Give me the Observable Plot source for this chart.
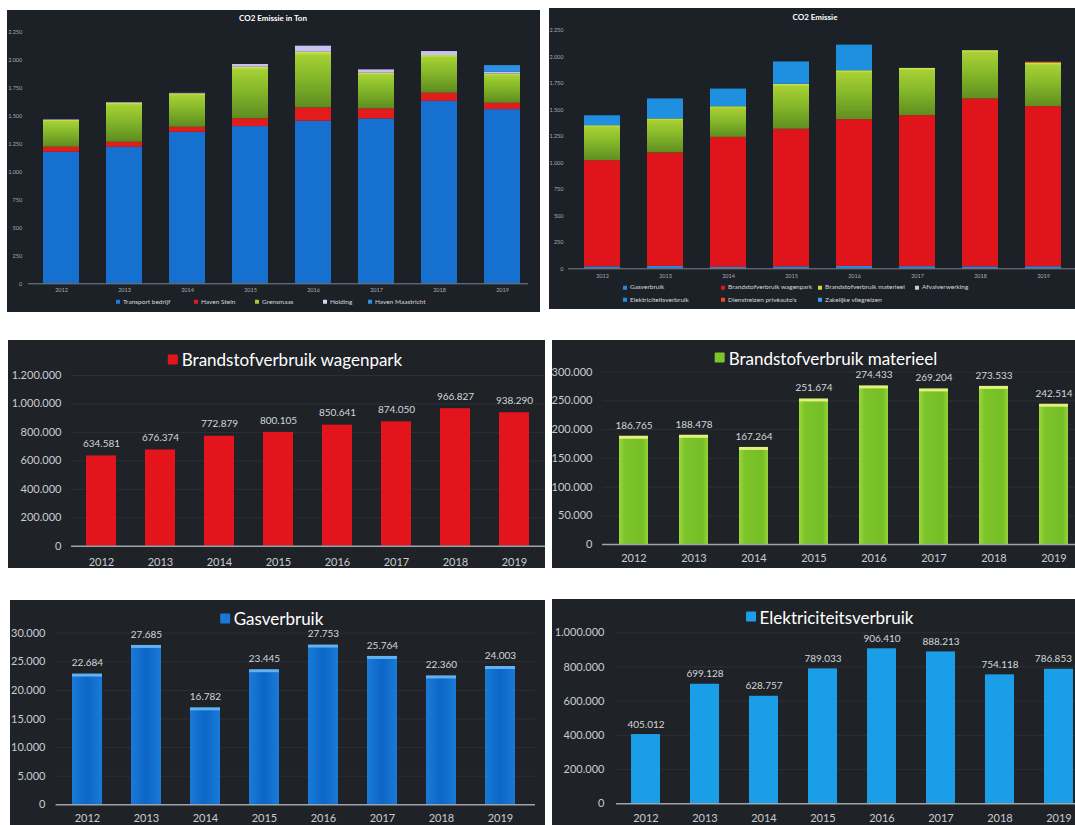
<!DOCTYPE html>
<html>
<head>
<meta charset="utf-8">
<script src="https://cdn.jsdelivr.net/npm/d3@7"></script>
<script src="https://cdn.jsdelivr.net/npm/@observablehq/plot@0.6"></script>
<style>
  html, body { margin: 0; padding: 0; background: #ffffff; }
  body { width: 1075px; height: 825px; position: relative; overflow: hidden; font-family: Lato, "Open Sans", sans-serif; }
  .panel { position: absolute; background: #1f2328; overflow: hidden; }
  .panel.top { background: #1c2027; }
  .title { position: absolute; transform: translate(-50%, -50%); color: #ffffff; white-space: nowrap; line-height: 1; display: flex; align-items: center; }
  .mk { display: inline-block; margin-right: 4px; border-radius: 1px; }
  .svgwrap { position: absolute; left: 0; }
  .leg { position: absolute; color: #d6d8dc; white-space: nowrap; line-height: 1; display: flex; align-items: center; transform: translateY(-50%); }
  .leg i { display: inline-block; width: 4px; height: 4px; margin-right: 3px; }
</style>
</head>
<body>
<script>
// ---------- DATA ----------
const years = ["2012", "2013", "2014", "2015", "2016", "2017", "2018", "2019"];

// CO2 Emissie in Ton (per onderdeel)
const tlSeries = ["Transport bedrijf", "Haven Stein", "Grensmaas", "Holding", "Haven Maastricht"];
const tlTransport       = [1176, 1221, 1355, 1406, 1454, 1475, 1632, 1558];
const tlHavenStein      = [45, 45, 45, 69, 119, 89, 72, 56];
const tlGrensmaas       = [239, 349, 298, 462, 498, 319, 337, 262];
const tlHolding         = [5, 5, 5, 24, 54, 30, 36, 15];
const tlHavenMaastricht = [0, 0, 0, 0, 0, 0, 0, 60];
const tlTicks = [0, 250, 500, 750, 1000, 1250, 1500, 1750, 2000, 2250];

// CO2 Emissie (per bron)
const trStackOrder = ["Gasverbruik", "Brandstofverbruik wagenpark", "Brandstofverbruik materieel", "Afvalverwerking", "Dienstreizen privéauto's", "Elektriciteitsverbruik", "Zakelijke vliegreizen"];
const trGas          = [18, 22, 13, 18, 22, 20, 18, 19];
const trWagenpark    = [1003, 1072, 1228, 1300, 1386, 1426, 1585, 1512];
const trMaterieel    = [330, 321, 289, 424, 462, 446, 456, 409];
const trAfval        = [0, 0, 0, 0, 0, 0, 0, 0];
const trDienstreizen = [0, 0, 0, 0, 0, 0, 0, 10];
const trElektriciteit = [94, 189, 167, 211, 242, 0, 0, 0];
const trVliegreizen  = [0, 0, 0, 0, 0, 0, 0, 0];
const trTicks = [0, 250, 500, 750, 1000, 1250, 1500, 1750, 2000, 2250];

// Brandstofverbruik wagenpark
const wagenpark = [634581, 676374, 772879, 800105, 850641, 874050, 966827, 938290];
const wagenparkTicks = [0, 200000, 400000, 600000, 800000, 1000000, 1200000];
// Brandstofverbruik materieel
const materieel = [186765, 188478, 167264, 251674, 274433, 269204, 273533, 242514];
const materieelTicks = [0, 50000, 100000, 150000, 200000, 250000, 300000];
// Gasverbruik
const gas = [22684, 27685, 16782, 23445, 27753, 25764, 22360, 24003];
const gasTicks = [0, 5000, 10000, 15000, 20000, 25000, 30000];
// Elektriciteitsverbruik
const elektriciteit = [405012, 699128, 628757, 789033, 906410, 888213, 754118, 786853];
const elektriciteitTicks = [0, 200000, 400000, 600000, 800000, 1000000];

// ---------- HELPERS ----------
const nl = d3.formatLocale({decimal: ",", thousands: ".", grouping: [3], currency: ["€", ""]});
const fmt = nl.format(",d");

function bandX(c0, c1, bw, off) {
  const n = years.length;
  const step = (c1 - c0) / (n - 1);
  const p = 1 - bw / step;
  const po = 0.25;
  return {type: "band", domain: years, range: [c0 - bw / 2 - po * step - off, c1 + bw / 2 + po * step - off], paddingInner: p, paddingOuter: po, align: 0.5};
}

function makePanel(p, cls) {
  const d = document.createElement("div");
  d.className = "panel" + (cls ? " " + cls : "");
  Object.assign(d.style, {left: p.left + "px", top: p.top + "px", width: p.width + "px", height: p.height + "px"});
  document.body.appendChild(d);
  return d;
}

function addTitle(div, p, text, cx, cy, size, weight, marker, mkSize) {
  const t = document.createElement("div");
  t.className = "title";
  t.style.left = (cx - p.left) + "px";
  t.style.top = (cy - p.top) + "px";
  t.style.fontSize = size + "px";
  t.style.fontWeight = weight;
  if (marker) {
    const m = document.createElement("span");
    m.className = "mk";
    Object.assign(m.style, {background: marker, width: mkSize + "px", height: mkSize + "px"});
    t.appendChild(m);
  }
  t.appendChild(document.createTextNode(text));
  div.appendChild(t);
}

function addGradients(svg, grads) {
  const ns = "http://www.w3.org/2000/svg";
  const defs = document.createElementNS(ns, "defs");
  for (const g of grads) {
    const lg = document.createElementNS(ns, "linearGradient");
    lg.setAttribute("id", g.id);
    lg.setAttribute("x1", g.x1 ?? 0); lg.setAttribute("y1", g.y1 ?? 0);
    lg.setAttribute("x2", g.x2 ?? 0); lg.setAttribute("y2", g.y2 ?? 1);
    for (const [o, c] of g.stops) {
      const s = document.createElementNS(ns, "stop");
      s.setAttribute("offset", o);
      s.setAttribute("stop-color", c);
      lg.appendChild(s);
    }
    defs.appendChild(lg);
  }
  svg.insertBefore(defs, svg.firstChild);
}

function placeSvg(div, p, svgTop, svg) {
  const w = document.createElement("div");
  w.className = "svgwrap";
  w.style.top = (svgTop - p.top) + "px";
  w.appendChild(svg);
  div.appendChild(w);
}

function simpleChart(c) {
  const p = c.panel;
  const div = makePanel(p);
  addTitle(div, p, c.title, c.titleX, c.titleY, 17, 400, c.marker, 10);
  const data = years.map((y, i) => ({year: y, value: c.values[i]}));
  const last = data.length - 1;
  const yMax = c.ticks[c.ticks.length - 1];
  const labelStyle = {x: "year", y: "value", text: d => fmt(d.value), dy: -c.valueDy, fill: "#d4d6da", fontSize: 10};
  const svg = Plot.plot({
    width: p.width,
    height: c.svgH,
    marginTop: c.yTop - c.svgTop,
    marginBottom: c.svgTop + c.svgH - c.yBase,
    marginLeft: c.lineLeft - p.left,
    marginRight: p.left + p.width - c.lineRight,
    style: {background: "transparent", color: "#c9ccd1", fontFamily: "Lato, sans-serif", fontSize: "11px", overflow: "visible"},
    x: {...bandX(c.c0, c.c1, c.bw, p.left), tickSize: 0, tickPadding: c.yearTp, label: null},
    y: {domain: [0, yMax], ticks: c.ticks, tickFormat: fmt, tickSize: 0, tickPadding: c.lineLeft - c.labelRight, label: null},
    marks: [
      Plot.ruleY(c.ticks.slice(1), {stroke: "#ffffff", strokeOpacity: 0.06}),
      Plot.barY(data, {x: "year", y: "value", fill: c.fill}),
      c.cap ? Plot.tickY(data, {x: "year", y: "value", stroke: c.cap, strokeWidth: 3}) : null,
      c.lastDx
        ? Plot.text(data.slice(0, last), labelStyle)
        : Plot.text(data, labelStyle),
      c.lastDx ? Plot.text(data.slice(last), {...labelStyle, textAnchor: "end", dx: c.lastDx}) : null,
      Plot.ruleY([0], {stroke: "#9ea4ab", strokeWidth: 1.5})
    ]
  });
  if (c.grads) addGradients(svg, c.grads);
  placeSvg(div, p, c.svgTop, svg);
}

function stackedChart(c) {
  const p = c.panel;
  const div = makePanel(p, "top");
  addTitle(div, p, c.title, c.titleX, c.titleY, 8, 700);
  const long = [];
  c.series.forEach((s, si) => years.forEach((y, i) => long.push({year: y, series: s, value: c.values[si][i]})));
  const yMax = c.ticks[c.ticks.length - 1];
  const svg = Plot.plot({
    width: p.width,
    height: c.svgH,
    marginTop: c.yTop - c.svgTop,
    marginBottom: c.svgTop + c.svgH - c.yBase,
    marginLeft: c.lineLeft - p.left,
    marginRight: p.left + p.width - c.lineRight,
    style: {background: "transparent", color: "#a9adb3", fontFamily: "Lato, sans-serif", fontSize: "5.5px", overflow: "visible"},
    x: {...bandX(c.c0, c.c1, c.bw, p.left), tickSize: 0, tickPadding: c.yearTp, label: null},
    y: {domain: [0, yMax], ticks: c.ticks, tickFormat: fmt, tickSize: 0, tickPadding: c.lineLeft - c.labelRight, label: null},
    color: {domain: c.series, range: c.colors},
    marks: [
      Plot.barY(long, {x: "year", y: "value", fill: "series"}),
      Plot.ruleY([0], {stroke: "#7d838b", strokeWidth: 1})
    ]
  });
  if (c.grads) addGradients(svg, c.grads);
  placeSvg(div, p, c.svgTop, svg);
  for (const l of c.legend) {
    const e = document.createElement("div");
    e.className = "leg";
    e.style.left = (l.x - p.left) + "px";
    e.style.top = (l.y - p.top) + "px";
    e.style.fontSize = "6.5px";
    e.innerHTML = `<i style="background:${l.color}"></i>${l.text}`;
    div.appendChild(e);
  }
}

// ---------- CHARTS ----------
const greenGrad = {id: "gGreenTop", stops: [[0, "#d2e858"], [0.06, "#a6d034"], [0.45, "#86b82a"], [1, "#5d8c20"]]};

stackedChart({
  panel: {left: 7, top: 10, width: 533, height: 302},
  title: "CO2 Emissie in Ton", titleX: 273, titleY: 18,
  svgTop: 10, svgH: 286, yTop: 31.7, yBase: 283.3,
  labelRight: 21.7, lineLeft: 28, lineRight: 528,
  c0: 57.9, c1: 504.9, bw: 36, yearTp: 4.6,
  ticks: tlTicks,
  series: tlSeries,
  values: [tlTransport, tlHavenStein, tlGrensmaas, tlHolding, tlHavenMaastricht],
  colors: ["#1570cf", "#e31b1d", "url(#gGreenTop)", "#c9c2f0", "#2f8fe2"],
  grads: [greenGrad],
  legend: [
    {x: 116, y: 301.7, color: "#1f7ad8", text: "Transport bedrijf"},
    {x: 194, y: 301.7, color: "#e31b1d", text: "Haven Stein"},
    {x: 255, y: 301.7, color: "#a6c832", text: "Grensmaas"},
    {x: 323, y: 301.7, color: "#d8d4f0", text: "Holding"},
    {x: 368, y: 301.7, color: "#2f8fe2", text: "Haven Maastricht"}
  ]
});

const greenGrad2 = {id: "gGreenTop2", stops: [[0, "#d6ea5a"], [0.05, "#a8d034"], [0.45, "#88ba2a"], [1, "#5f8e20"]]};
stackedChart({
  panel: {left: 549, top: 8, width: 526, height: 301},
  title: "CO2 Emissie", titleX: 815, titleY: 17.3,
  svgTop: 8, svgH: 276, yTop: 30, yBase: 268.3,
  labelRight: 563, lineLeft: 568, lineRight: 1075,
  c0: 599.6, c1: 1045.2, bw: 36, yearTp: 5.6,
  ticks: trTicks,
  series: trStackOrder,
  values: [trGas, trWagenpark, trMaterieel, trAfval, trDienstreizen, trElektriciteit, trVliegreizen],
  colors: ["#2a86dc", "#e0141b", "url(#gGreenTop2)", "#d8dade", "#f07a22", "#1f8fe0", "#3aa0ea"],
  grads: [greenGrad2],
  legend: [
    {x: 623, y: 287.3, color: "#2a86dc", text: "Gasverbruik"},
    {x: 721, y: 287.3, color: "#e0141b", text: "Brandstofverbruik wagenpark"},
    {x: 818, y: 287.3, color: "#d8d030", text: "Brandstofverbruik materieel"},
    {x: 915, y: 287.3, color: "#c8cace", text: "Afvalverwerking"},
    {x: 623, y: 300, color: "#1f8fe0", text: "Elektriciteitsverbruik"},
    {x: 721, y: 300, color: "#f04a22", text: "Dienstreizen privéauto's"},
    {x: 818, y: 300, color: "#3aa0ea", text: "Zakelijke vliegreizen"}
  ]
});

simpleChart({
  panel: {left: 8, top: 340, width: 537, height: 228},
  title: "Brandstofverbruik wagenpark", titleX: 285, titleY: 359, marker: "#e3141b",
  svgTop: 366, svgH: 202, yTop: 375, yBase: 545.7,
  labelRight: 61, lineLeft: 71, lineRight: 545,
  c0: 99.6, c1: 516, bw: 30, yearTp: 12, valueDy: 12,
  ticks: wagenparkTicks, values: wagenpark, fill: "#e3141b"
});

simpleChart({
  panel: {left: 552, top: 340, width: 523, height: 228},
  title: "Brandstofverbruik materieel", titleX: 826, titleY: 357.7, marker: "#7cc42a",
  svgTop: 364, svgH: 204, yTop: 371.7, yBase: 544,
  labelRight: 592, lineLeft: 602, lineRight: 1075,
  c0: 633, c1: 1053.6, bw: 29.4, yearTp: 10, valueDy: 11.7,
  ticks: materieelTicks, values: materieel, fill: "url(#gMat)", cap: "#e4f07c",
  grads: [{id: "gMat", x1: 0, y1: 0, x2: 1, y2: 0, stops: [[0, "#9ad838"], [0.2, "#7cc42a"], [0.8, "#74be26"], [1, "#94d236"]]}]
});

simpleChart({
  panel: {left: 10, top: 600, width: 535, height: 225},
  title: "Gasverbruik", titleX: 271.5, titleY: 618.3, marker: "#1a78d8",
  svgTop: 624, svgH: 201, yTop: 632.7, yBase: 804.3,
  labelRight: 45, lineLeft: 55.6, lineRight: 535,
  c0: 84.3, c1: 502.3, bw: 30, yearTp: 9.4, valueDy: 12,
  ticks: gasTicks, values: gas, fill: "url(#gGas)", cap: "#62b2f2",
  grads: [{id: "gGas", x1: 0, y1: 0, x2: 1, y2: 0, stops: [[0, "#1a7ad8"], [0.5, "#0c66c6"], [1, "#1a7ad8"]]}]
});

simpleChart({
  panel: {left: 552, top: 599, width: 523, height: 226},
  title: "Elektriciteitsverbruik", titleX: 829.5, titleY: 616.7, marker: "#1a9ee8",
  svgTop: 623, svgH: 202, yTop: 632.3, yBase: 803.3,
  labelRight: 604, lineLeft: 616, lineRight: 1075,
  c0: 643.8, c1: 1059.4, bw: 28.7, yearTp: 10.4, valueDy: 10, lastDx: 13,
  ticks: elektriciteitTicks, values: elektriciteit, fill: "#1a9ee8"
});
</script>
</body>
</html>
